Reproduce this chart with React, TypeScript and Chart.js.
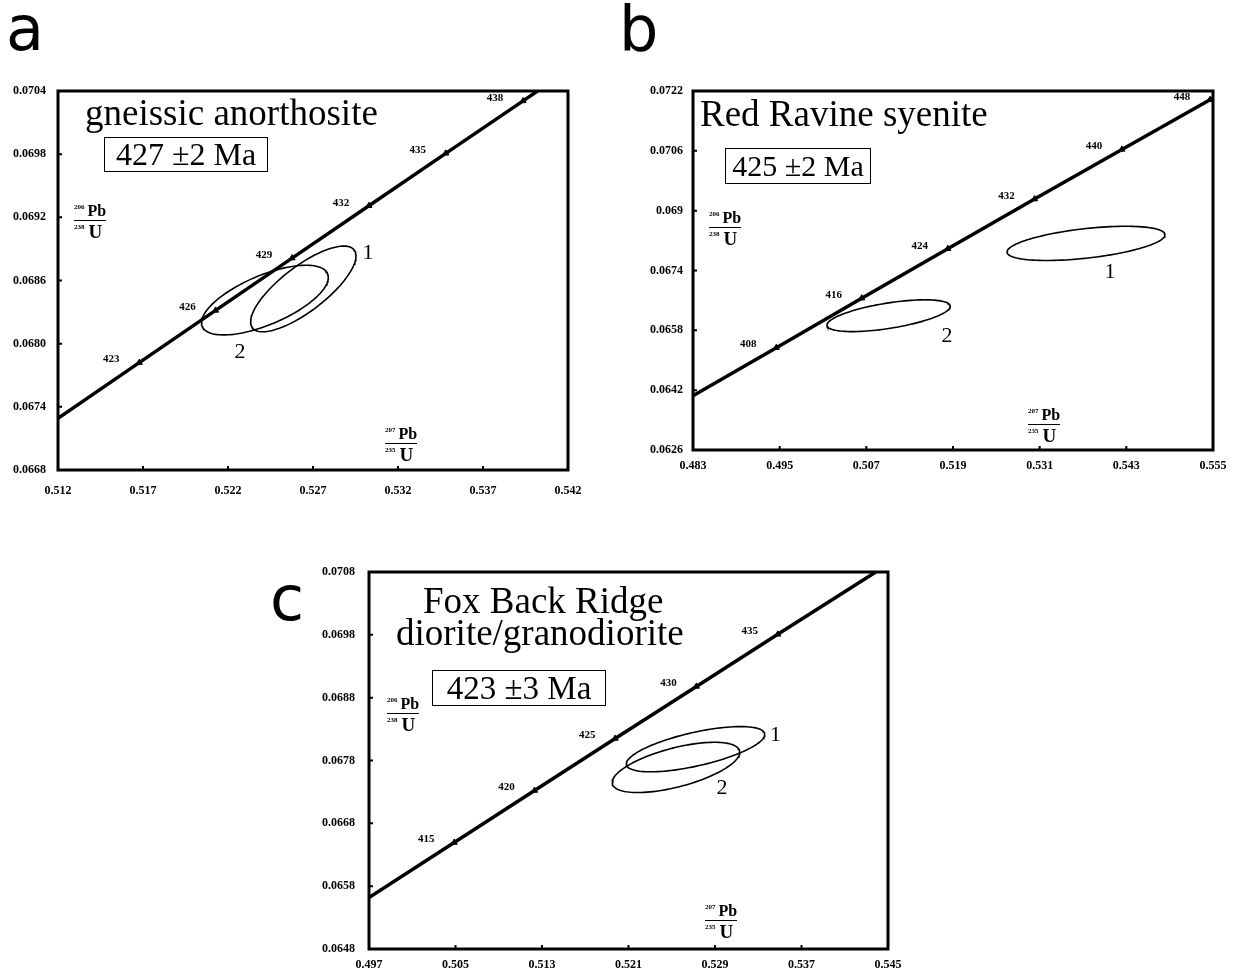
import React, { useEffect, useRef } from "react";
import { Chart, registerables } from "chart.js";

Chart.register(...registerables);

// ---------------- Panel a: gneissic anorthosite ----------------
const aXTicks = [0.512, 0.517, 0.522, 0.527, 0.532, 0.537, 0.542];
const aXLabels = ["0.512", "0.517", "0.522", "0.527", "0.532", "0.537", "0.542"];
const aYTicks = [0.0668, 0.0674, 0.068, 0.0686, 0.0692, 0.0698, 0.0704];
const aYLabels = ["0.0668", "0.0674", "0.0680", "0.0686", "0.0692", "0.0698", "0.0704"];
const aCurveX = [0.512, 0.51678, 0.52127, 0.52577, 0.53029, 0.53481, 0.53936, 0.54021];
const aCurveY = [0.06729, 0.06782, 0.068316, 0.068813, 0.06931, 0.069808, 0.070306, 0.0704];
const aAges = [423, 426, 429, 432, 435, 438];
const aAgeX = [0.51678, 0.52127, 0.52577, 0.53029, 0.53481, 0.53936];
const aAgeY = [0.06782, 0.068316, 0.068813, 0.06931, 0.069808, 0.070306];
const aEllNames = ["1", "2"];
const aEllCX = [0.52643, 0.52417];
const aEllCY = [0.06852, 0.068414];
const aEllA = [0.0031, 0.00373];
const aEllB = [0.000407, 0.000331];
const aEllRho = [0.77, 0.65];
const aEllLabelX = [0.53024, 0.52271];
const aEllLabelY = [0.068861, 0.067921];

// ---------------- Panel b: Red Ravine syenite ----------------
const bXTicks = [0.483, 0.495, 0.507, 0.519, 0.531, 0.543, 0.555];
const bXLabels = ["0.483", "0.495", "0.507", "0.519", "0.531", "0.543", "0.555"];
const bYTicks = [0.0626, 0.0642, 0.0658, 0.0674, 0.069, 0.0706, 0.0722];
const bYLabels = ["0.0626", "0.0642", "0.0658", "0.0674", "0.069", "0.0706", "0.0722"];
const bCurveX = [0.483, 0.49454, 0.50636, 0.51828, 0.53029, 0.54239, 0.55459, 0.555];
const bCurveY = [0.06405, 0.065337, 0.06666, 0.067984, 0.06931, 0.070638, 0.071968, 0.07201];
const bAges = [408, 416, 424, 432, 440, 448];
const bAgeX = [0.49454, 0.50636, 0.51828, 0.53029, 0.54239, 0.55459];
const bAgeY = [0.065337, 0.06666, 0.067984, 0.06931, 0.070638, 0.071968];
const bEllNames = ["1", "2"];
const bEllCX = [0.53742, 0.51008];
const bEllCY = [0.068125, 0.066191];
const bEllA = [0.010935, 0.00853];
const bEllB = [0.000458, 0.000425];
const bEllRho = [0.5, 0.59];
const bEllLabelX = [0.54074, 0.51817];
const bEllLabelY = [0.06736, 0.065648];

// ---------------- Panel c: Fox Back Ridge ----------------
const cXTicks = [0.497, 0.505, 0.513, 0.521, 0.529, 0.537, 0.545];
const cXLabels = ["0.497", "0.505", "0.513", "0.521", "0.529", "0.537", "0.545"];
const cYTicks = [0.0648, 0.0658, 0.0668, 0.0678, 0.0688, 0.0698, 0.0708];
const cYLabels = ["0.0648", "0.0658", "0.0668", "0.0678", "0.0688", "0.0698", "0.0708"];
const cCurveX = [0.497, 0.50488, 0.51231, 0.51977, 0.52728, 0.53481, 0.54387];
const cCurveY = [0.065619, 0.066494, 0.067322, 0.06815, 0.068979, 0.069808, 0.0708];
const cAges = [415, 420, 425, 430, 435];
const cAgeX = [0.50488, 0.51231, 0.51977, 0.52728, 0.53481];
const cAgeY = [0.066494, 0.067322, 0.06815, 0.068979, 0.069808];
const cEllNames = ["1", "2"];
const cEllCX = [0.5272, 0.52539];
const cEllCY = [0.06798, 0.06769];
const cEllA = [0.0064, 0.0059];
const cEllB = [0.00036, 0.0004];
const cEllRho = [0.65, 0.6];
const cEllLabelX = [0.5346, 0.52965];
const cEllLabelY = [0.068206, 0.067362];

type Spec = {
  canvas: { left: number; top: number; width: number; height: number };
  padding: { left: number; top: number; right: number; bottom: number };
  yWidth: number;
  xHeight: number;
  xPad: number;
  yPad: number;
  xTicks: number[];
  xLabels: string[];
  yTicks: number[];
  yLabels: string[];
  curveX: number[];
  curveY: number[];
  ages: number[];
  ageX: number[];
  ageY: number[];
  ellNames: string[];
  ellCX: number[];
  ellCY: number[];
  ellA: number[];
  ellB: number[];
  ellRho: number[];
  ellLabelX: number[];
  ellLabelY: number[];
};

const SPEC_A: Spec = {
  canvas: { left: 0, top: 70, width: 620, height: 440 },
  padding: { left: 0, top: 21, right: 52, bottom: 5 },
  yWidth: 58, xHeight: 35, xPad: 14, yPad: 12,
  xTicks: aXTicks, xLabels: aXLabels, yTicks: aYTicks, yLabels: aYLabels,
  curveX: aCurveX, curveY: aCurveY, ages: aAges, ageX: aAgeX, ageY: aAgeY,
  ellNames: aEllNames, ellCX: aEllCX, ellCY: aEllCY, ellA: aEllA, ellB: aEllB, ellRho: aEllRho,
  ellLabelX: aEllLabelX, ellLabelY: aEllLabelY,
};

const SPEC_B: Spec = {
  canvas: { left: 630, top: 70, width: 609, height: 420 },
  padding: { left: 0, top: 21, right: 26, bottom: 5 },
  yWidth: 63, xHeight: 35, xPad: 9, yPad: 10,
  xTicks: bXTicks, xLabels: bXLabels, yTicks: bYTicks, yLabels: bYLabels,
  curveX: bCurveX, curveY: bCurveY, ages: bAges, ageX: bAgeX, ageY: bAgeY,
  ellNames: bEllNames, ellCX: bEllCX, ellCY: bEllCY, ellA: bEllA, ellB: bEllB, ellRho: bEllRho,
  ellLabelX: bEllLabelX, ellLabelY: bEllLabelY,
};

const SPEC_C: Spec = {
  canvas: { left: 300, top: 550, width: 620, height: 421 },
  padding: { left: 0, top: 22, right: 32, bottom: 0 },
  yWidth: 69, xHeight: 22, xPad: 9, yPad: 14,
  xTicks: cXTicks, xLabels: cXLabels, yTicks: cYTicks, yLabels: cYLabels,
  curveX: cCurveX, curveY: cCurveY, ages: cAges, ageX: cAgeX, ageY: cAgeY,
  ellNames: cEllNames, ellCX: cEllCX, ellCY: cEllCY, ellA: cEllA, ellB: cEllB, ellRho: cEllRho,
  ellLabelX: cEllLabelX, ellLabelY: cEllLabelY,
};

// outline of an error ellipse from its centre, half-ranges and correlation
function ellipseOutline(cx: number, cy: number, a: number, b: number, rho: number) {
  const pts: { x: number; y: number }[] = [];
  const s = Math.sqrt(1 - rho * rho);
  const n = 120;
  for (let i = 0; i <= n; i++) {
    const t = (i / n) * Math.PI * 2;
    pts.push({ x: cx + a * Math.cos(t), y: cy + b * (rho * Math.cos(t) + s * Math.sin(t)) });
  }
  return pts;
}

function makeConfig(spec: Spec): any {
  const tickFont = { family: '"Liberation Serif", serif', size: 12, weight: "bold" as const };
  const ellipseSets = spec.ellNames.map((_, i) => ({
    data: ellipseOutline(spec.ellCX[i], spec.ellCY[i], spec.ellA[i], spec.ellB[i], spec.ellRho[i]),
    showLine: true,
    borderColor: "#000",
    borderWidth: 1.6,
    pointRadius: 0,
    fill: false,
  }));
  const curve = {
    data: spec.curveX.map((x, i) => ({ x, y: spec.curveY[i] })),
    showLine: true,
    borderColor: "#000",
    borderWidth: 3.5,
    pointRadius: 0,
    fill: false,
  };
  const marks = {
    data: spec.ageX.map((x, i) => ({ x, y: spec.ageY[i] })),
    showLine: false,
    pointStyle: "triangle",
    pointRadius: 3.5,
    pointBackgroundColor: "#000",
    pointBorderColor: "#000",
    pointBorderWidth: 1,
  };

  const overlay = {
    id: "overlay",
    afterDatasetsDraw(chart: any) {
      const { ctx, chartArea: ca } = chart;
      const xs = chart.scales.x;
      const ys = chart.scales.y;
      ctx.save();
      ctx.strokeStyle = "#000";
      ctx.lineWidth = 3;
      ctx.strokeRect(ca.left, ca.top, ca.right - ca.left, ca.bottom - ca.top);
      ctx.lineWidth = 2;
      ctx.beginPath();
      spec.yTicks.forEach((v) => {
        const p = ys.getPixelForValue(v);
        ctx.moveTo(ca.left, p);
        ctx.lineTo(ca.left + 4, p);
      });
      spec.xTicks.forEach((v) => {
        const p = xs.getPixelForValue(v);
        ctx.moveTo(p, ca.bottom);
        ctx.lineTo(p, ca.bottom - 4);
      });
      ctx.stroke();
      ctx.fillStyle = "#000";
      ctx.textAlign = "center";
      ctx.textBaseline = "middle";
      ctx.font = 'bold 11px "Liberation Serif", serif';
      spec.ages.forEach((age, i) => {
        ctx.fillText(String(age), xs.getPixelForValue(spec.ageX[i]) - 28, ys.getPixelForValue(spec.ageY[i]) - 3);
      });
      ctx.font = '22px "Liberation Serif", serif';
      spec.ellNames.forEach((name, i) => {
        ctx.fillText(name, xs.getPixelForValue(spec.ellLabelX[i]), ys.getPixelForValue(spec.ellLabelY[i]));
      });
      ctx.restore();
    },
  };

  return {
    type: "scatter",
    data: { datasets: [...ellipseSets, curve, marks] },
    options: {
      responsive: false,
      maintainAspectRatio: false,
      animation: false,
      devicePixelRatio: 1,
      layout: { padding: spec.padding },
      plugins: { legend: { display: false }, tooltip: { enabled: false } },
      scales: {
        x: {
          type: "linear",
          min: spec.xTicks[0],
          max: spec.xTicks[spec.xTicks.length - 1],
          afterBuildTicks: (s: any) => {
            s.ticks = spec.xTicks.map((value) => ({ value }));
          },
          afterFit: (s: any) => {
            s.height = spec.xHeight;
          },
          grid: { display: false, drawTicks: false },
          border: { display: false },
          ticks: {
            autoSkip: false,
            maxRotation: 0,
            padding: spec.xPad,
            color: "#000",
            font: tickFont,
            callback: (_v: any, i: number) => spec.xLabels[i],
          },
        },
        y: {
          type: "linear",
          min: spec.yTicks[0],
          max: spec.yTicks[spec.yTicks.length - 1],
          afterBuildTicks: (s: any) => {
            s.ticks = spec.yTicks.map((value) => ({ value }));
          },
          afterFit: (s: any) => {
            s.width = spec.yWidth;
          },
          grid: { display: false, drawTicks: false },
          border: { display: false },
          ticks: {
            autoSkip: false,
            padding: spec.yPad,
            color: "#000",
            font: tickFont,
            callback: (_v: any, i: number) => spec.yLabels[i],
          },
        },
      },
    },
    plugins: [overlay],
  };
}

function Panel({ spec }: { spec: Spec }) {
  const ref = useRef<HTMLCanvasElement | null>(null);
  useEffect(() => {
    if (!ref.current) return;
    const chart = new Chart(ref.current, makeConfig(spec));
    return () => chart.destroy();
  }, [spec]);
  const c = spec.canvas;
  return (
    <canvas
      ref={ref}
      width={c.width}
      height={c.height}
      style={{ position: "absolute", left: c.left, top: c.top, width: c.width, height: c.height, display: "block" }}
    />
  );
}

const SERIF = '"Liberation Serif", "Times New Roman", serif';

function Txt({ left, baseline, size, text }: { left: number; baseline: number; size: number; text: string }) {
  return (
    <div
      style={{
        position: "absolute",
        left,
        top: baseline - 0.8375 * size,
        fontFamily: SERIF,
        fontSize: size,
        lineHeight: `${size}px`,
        whiteSpace: "nowrap",
        color: "#000",
      }}
    >
      {text}
    </div>
  );
}

function Box({ left, top, width, height, size, text }: { left: number; top: number; width: number; height: number; size: number; text: string }) {
  return (
    <div
      style={{
        position: "absolute",
        left,
        top,
        width,
        height,
        boxSizing: "border-box",
        border: "1.6px solid #000",
        display: "flex",
        alignItems: "center",
        justifyContent: "center",
        fontFamily: SERIF,
        fontSize: size,
        whiteSpace: "nowrap",
        color: "#000",
        background: "#fff",
      }}
    >
      {text}
    </div>
  );
}

function Frac({ left, top, nSup, nEl, dSup, dEl }: { left: number; top: number; nSup: string; nEl: string; dSup: string; dEl: string }) {
  return (
    <div style={{ position: "absolute", left, top, fontFamily: SERIF, fontWeight: "bold", color: "#000", lineHeight: 1 }}>
      <div style={{ borderBottom: "1.5px solid #000", paddingBottom: 1, whiteSpace: "nowrap", textAlign: "right" }}>
        <span style={{ fontSize: 7, verticalAlign: 7 }}>{nSup}</span>
        <span style={{ fontSize: 16, marginLeft: 3 }}>{nEl}</span>
      </div>
      <div style={{ paddingTop: 1, whiteSpace: "nowrap" }}>
        <span style={{ fontSize: 7, verticalAlign: 9 }}>{dSup}</span>
        <span style={{ fontSize: 19, marginLeft: 4 }}>{dEl}</span>
      </div>
    </div>
  );
}

function Letter({ left, baseline, text }: { left: number; baseline: number; text: string }) {
  const size = 62;
  return (
    <div
      style={{
        position: "absolute",
        left,
        top: baseline - 0.846 * size,
        fontFamily: '"DejaVu Sans", sans-serif',
        fontSize: size,
        lineHeight: `${size}px`,
        color: "#000",
      }}
    >
      {text}
    </div>
  );
}

export default function App() {
  useEffect(() => {
    document.body.style.margin = "0";
  }, []);
  return (
    <div style={{ position: "absolute", left: 0, top: 0, width: 1239, height: 971, background: "#fff", overflow: "hidden" }}>
      <Panel spec={SPEC_A} />
      <Panel spec={SPEC_B} />
      <Panel spec={SPEC_C} />

      <Letter left={6} baseline={50} text="a" />
      <Letter left={619} baseline={50} text="b" />
      <Letter left={270} baseline={620} text="c" />

      <Txt left={85} baseline={125} size={37} text="gneissic anorthosite" />
      <Box left={104} top={137} width={164} height={35} size={32} text="427 ±2 Ma" />
      <Frac left={74} top={203} nSup="206" nEl="Pb" dSup="238" dEl="U" />
      <Frac left={385} top={426} nSup="207" nEl="Pb" dSup="235" dEl="U" />

      <Txt left={700} baseline={126} size={37} text="Red Ravine syenite" />
      <Box left={725} top={148} width={146} height={36} size={30} text="425 ±2 Ma" />
      <Frac left={709} top={210} nSup="206" nEl="Pb" dSup="238" dEl="U" />
      <Frac left={1028} top={407} nSup="207" nEl="Pb" dSup="235" dEl="U" />

      <Txt left={423} baseline={613} size={37} text="Fox Back Ridge" />
      <Txt left={396} baseline={645} size={37} text="diorite/granodiorite" />
      <Box left={432} top={670} width={174} height={36} size={33} text="423 ±3 Ma" />
      <Frac left={387} top={696} nSup="206" nEl="Pb" dSup="238" dEl="U" />
      <Frac left={705} top={903} nSup="207" nEl="Pb" dSup="235" dEl="U" />
    </div>
  );
}
